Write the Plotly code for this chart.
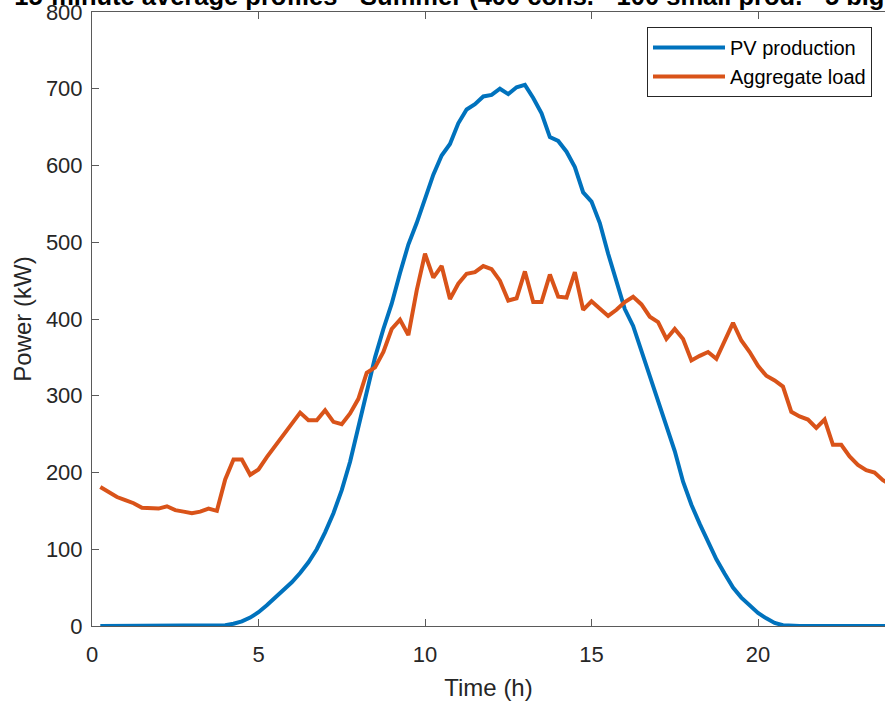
import plotly.graph_objects as go

# 15-minute time steps (h)
time_h = [0.25 * k for k in range(1, 97)]

pv_production = [
    0, 0, 0, 0, 0, 0, 0, 0, 0, 0, 0, 0, 0, 0, 0,
    1, 3, 6, 11, 18, 27, 37, 47, 57, 69, 83, 100, 122, 147, 177, 214,
    258, 302, 350, 387, 420, 460, 497, 525, 555, 588, 613, 628, 655, 673, 680, 690,
    692, 700, 693, 702, 705, 688, 668, 637, 632, 618, 598, 565, 553, 525, 485, 448,
    413, 391, 358, 326, 292, 262, 228, 188, 158, 133, 109, 87, 68, 50, 37, 27,
    17, 10, 4, 1, 0, 0, 0, 0, 0, 0, 0, 0, 0, 0, 0, 0, 0,
]

aggregate_load = [
    181, 174, 168, 164, 160, 154, 154, 153, 156, 151, 149, 147, 149, 153, 150,
    191, 217, 217, 197, 204, 220, 234, 250, 264, 278, 268, 268, 281, 266, 263, 277,
    296, 330, 337, 357, 387, 399, 379, 437, 485, 454, 469, 426, 446, 459, 461, 469,
    465, 450, 424, 427, 462, 422, 422, 458, 429, 428, 461, 412, 423, 413, 404, 412,
    422, 429, 419, 403, 396, 374, 387, 374, 346, 352, 357, 348, 372, 395, 372, 357,
    339, 326, 320, 312, 279, 273, 269, 258, 269, 236, 236, 221, 210, 203, 200, 190, 184,
]

x_ticks = [0, 5, 10, 15, 20]
y_ticks = [0, 100, 200, 300, 400, 500, 600, 700, 800]

title_text = "15-minute average profiles - Summer (400 cons. - 100 small prod. - 5 big prod.)"

FONT = "Liberation Sans, Arial, sans-serif"
TXT = "#262626"
AX = "#5a5a5a"

fig = go.Figure()
fig.add_trace(go.Scatter(x=time_h, y=pv_production, mode="lines", name="PV production",
                         line=dict(color="#0072BD", width=4)))
fig.add_trace(go.Scatter(x=time_h, y=aggregate_load, mode="lines", name="Aggregate load",
                         line=dict(color="#D95319", width=4)))

fig.update_layout(
    width=885, height=704,
    margin=dict(l=92, r=0, t=12, b=78, pad=0, autoexpand=False),
    paper_bgcolor="white", plot_bgcolor="white",
    font=dict(family=FONT, color=TXT, size=22),
    title=dict(text="<b>" + title_text + "</b>", font=dict(size=25.5, color="black", family=FONT),
               xref="container", x=489 / 885, xanchor="center",
               yref="container", y=1 - 5 / 704, yanchor="bottom", automargin=False),
    showlegend=True,
    legend=dict(x=(872 - 92) / 793, xref="paper", xanchor="right",
                y=1 - (27 - 12) / 614.3, yanchor="top",
                bgcolor="white", bordercolor="#262626", borderwidth=1,
                font=dict(size=20, color="black", family=FONT),
                itemwidth=72, tracegroupgap=0),
)

fig.update_xaxes(
    range=[0, 793 / 33.3], tickvals=x_ticks, ticktext=[str(v) for v in x_ticks],
    ticks="inside", ticklen=7, tickwidth=1, tickcolor=AX,
    showline=True, linecolor=AX, linewidth=1, mirror="ticks",
    showgrid=False, zeroline=False, automargin=False,
    ticklabelstandoff=9, ticklabeloverflow="allow",
    tickfont=dict(size=22, color=TXT),
    title=dict(text="Time (h)", font=dict(size=24, color=TXT), standoff=12),
)
fig.update_yaxes(
    range=[0, 800], tickvals=y_ticks, ticktext=[str(v) for v in y_ticks],
    ticks="inside", ticklen=7, tickwidth=1, tickcolor=AX,
    showline=True, linecolor=AX, linewidth=1,
    showgrid=False, zeroline=False, automargin=False,
    ticklabelstandoff=4, ticklabeloverflow="allow",
    tickfont=dict(size=22, color=TXT),
    title=dict(text="Power (kW)", font=dict(size=24, color=TXT), standoff=7),
)

fig.write_html("out.html", config={"displayModeBar": False},
               post_script="document.body.style.margin='0px';")
